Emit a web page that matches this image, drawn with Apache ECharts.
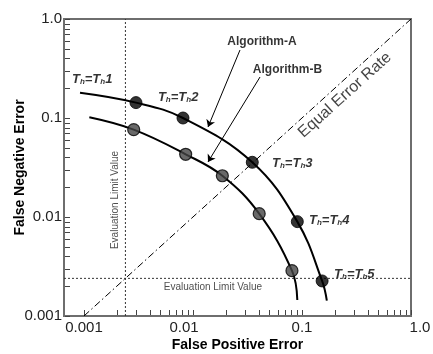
<!DOCTYPE html>
<html><head><meta charset="utf-8">
<script src="https://cdn.jsdelivr.net/npm/echarts@6.0.0/dist/echarts.min.js"></script>
<style>html,body{margin:0;padding:0;background:#fff}#c{width:433px;height:354px}</style>
</head><body><div id="c"></div>
<script>
// ---- data ----
const xAxisMin = 0.000656, xAxisMax = 1.0;
const yAxisMin = 0.001, yAxisMax = 1.0;
const xTickValues = [0.001, 0.01, 0.1, 1.0];
const xTickLabels = ['0.001', '0.01', '0.1', '1.0'];
const yTickValues = [0.001, 0.01, 0.1, 1.0];
const yTickLabels = ['0.001', '0.01', '0.1', '1.0'];
const minorMultipliers = [1, 2, 3, 4, 5, 6, 7, 8, 9];
const decades = [0.001, 0.01, 0.1];

const algAPoints = [[0.0030, 0.143], [0.0081, 0.100], [0.035, 0.0357], [0.0906, 0.00898], [0.153, 0.00226]];
const algBPoints = [[0.00286, 0.0762], [0.00857, 0.043], [0.0186, 0.0261], [0.0405, 0.0108], [0.0809, 0.00287]];
const algACurve = [[0.00092, 0.180], [0.0030, 0.143], [0.0081, 0.100], [0.035, 0.0357], [0.0906, 0.00898], [0.153, 0.00226], [0.169, 0.00143]];
const algBCurve = [[0.00112, 0.1016], [0.00286, 0.0762], [0.00857, 0.043], [0.0186, 0.0261], [0.0405, 0.0108], [0.0809, 0.00287], [0.0906, 0.00145]];

const thresholdNames = ['1', '2', '3', '4', '5'];
const thresholdLabelAt = [[0.000776, 0.2477], [0.00477, 0.163], [0.0531, 0.0351], [0.1159, 0.00933], [0.197, 0.00266]];

const equalErrorLine = [[0.001, 0.001], [1.0, 1.0]];
const evalLimitFP = 0.0024;
const evalLimitFN = 0.0024;

const algorithmNames = ['Algorithm-A', 'Algorithm-B'];
const algorithmLabelAt = [[0.0430, 0.586], [0.0736, 0.305]];
const algorithmArrows = [[[0.0270, 0.486], [0.01374, 0.0811]], [[0.0412, 0.2594], [0.01374, 0.0360]]];
const eerLabelAt = [0.2477, 0.1706];
const evalLabelVAt = [0.00192, 0.01486];
const evalLabelHAt = [0.01524, 0.00196];

// ---- layout ----
const GRID = { left: 64, top: 19, right: 22, bottom: 38 };
const TICK_PX = 5;

// ---- build ----
const tickVals = [];
decades.forEach(d => minorMultipliers.forEach(m => tickVals.push(+(d * m).toPrecision(3))));
tickVals.push(1.0);

const FONT = "'Liberation Sans', Arial, sans-serif";
function lookup(vals, labs) {
  return function (v) {
    let best = 0, bd = Infinity;
    vals.forEach((t, i) => { const d = Math.abs(Math.log10(t) - Math.log10(v)); if (d < bd) { bd = d; best = i; } });
    return labs[best];
  };
}
const xFmt = lookup(xTickValues, xTickLabels);
const yFmt = lookup(yTickValues, yTickLabels);
const AXC = '#6e6e6e';

const axisCommon = {
  type: 'log', logBase: 10,
  splitLine: { show: false }, minorTick: { show: false }, minorSplitLine: { show: false },
  axisLine: { show: true, onZero: false, lineStyle: { color: AXC, width: 2 } },
  axisTick: { show: false },
  nameMoveOverlap: false,
  nameTextStyle: { fontFamily: FONT, fontWeight: 'bold', fontSize: 14, color: '#000' }
};

const thRich = {
  t: { fontFamily: FONT, fontSize: 13, fontWeight: 'bold', fontStyle: 'italic', color: '#000', lineHeight: 14 },
  s: { fontFamily: FONT, fontSize: 8, fontWeight: 'bold', fontStyle: 'italic', color: '#000', lineHeight: 8, verticalAlign: 'bottom' }
};

const option = {
  animation: false,
  backgroundColor: '#fff',
  grid: Object.assign({ containLabel: false, outerBoundsMode: 'none',
    show: true, borderColor: AXC, borderWidth: 2, backgroundColor: 'transparent' }, GRID),
  xAxis: Object.assign({}, axisCommon, {
    min: xAxisMin, max: xAxisMax,
    name: 'False Positive Error', nameLocation: 'middle', nameGap: 22,
    axisLabel: {
      customValues: xTickValues, margin: 4, fontFamily: FONT, fontSize: 15, color: '#222',
      formatter: v => { const s = xFmt(v); if (s === '0.01') return '{l|' + s + '}'; if (s === '1.0') return '{r|' + s + '}'; return s; },
      rich: { l: { fontFamily: FONT, fontSize: 15, color: '#222', padding: [0, 18, 0, 0] }, r: { fontFamily: FONT, fontSize: 15, color: '#222', padding: [0, 0, 0, 18] } }
    }
  }),
  yAxis: Object.assign({}, axisCommon, {
    min: yAxisMin, max: yAxisMax,
    name: 'False Negative Error', nameLocation: 'middle', nameGap: 37,
    axisLabel: { customValues: yTickValues, margin: 2, fontFamily: FONT, fontSize: 15, color: '#222', formatter: v => yFmt(v) }
  }),
  series: [
    { type: 'line', data: equalErrorLine, symbol: 'none', silent: true,
      lineStyle: { color: '#000', width: 1, type: [7, 3, 1.5, 3] }, z: 2 },
    { type: 'line', data: [[evalLimitFP, yAxisMin], [evalLimitFP, yAxisMax]], symbol: 'none', silent: true,
      lineStyle: { color: '#333', width: 1, type: [2, 2] }, z: 2 },
    { type: 'line', data: [[xAxisMin, evalLimitFN], [xAxisMax, evalLimitFN]], symbol: 'none', silent: true,
      lineStyle: { color: '#333', width: 1, type: [2, 2] }, z: 2 },
    { type: 'line', data: algACurve, smooth: 0.4, symbol: 'none', silent: true, lineStyle: { color: '#000', width: 2 }, z: 3 },
    { type: 'line', data: algBCurve, smooth: 0.4, symbol: 'none', silent: true, lineStyle: { color: '#000', width: 2 }, z: 3 },
    { type: 'scatter', data: algAPoints, symbol: 'circle', symbolSize: 12, silent: true,
      itemStyle: { color: '#000', borderColor: '#000', borderWidth: 1 }, z: 5 },
    { type: 'scatter', data: algBPoints, symbol: 'circle', symbolSize: 12, silent: true,
      itemStyle: { color: '#444', borderColor: '#000', borderWidth: 1.2 }, z: 5 },
    { type: 'lines', coordinateSystem: 'cartesian2d', silent: true, symbol: ['none', 'arrow'], symbolSize: 7,
      lineStyle: { color: '#000', width: 1, opacity: 1 },
      data: algorithmArrows.map(c => ({ coords: c })), z: 4 },
    { type: 'scatter', symbolSize: 0, silent: true, z: 6,
      data: thresholdLabelAt.map((p, i) => ({ value: p, name: thresholdNames[i] })),
      label: { show: true, position: 'right', distance: 0,
        formatter: p => '{t|T}{s|h}{t|=T}{s|h}{t|' + p.name + '}', rich: thRich } },
    { type: 'scatter', symbolSize: 0, silent: true, z: 6,
      data: algorithmLabelAt.map((p, i) => ({ value: p, name: algorithmNames[i] })),
      label: { show: true, position: 'inside', formatter: p => p.name,
        fontFamily: FONT, fontSize: 12, fontWeight: 'bold', color: '#000' } },
    { type: 'scatter', symbolSize: 0, silent: true, z: 6,
      data: [{ value: eerLabelAt, name: 'Equal Error Rate' }],
      label: { show: true, position: 'inside', rotate: 42, formatter: p => p.name,
        fontFamily: FONT, fontSize: 16, color: '#111' } },
    { type: 'scatter', symbolSize: 0, silent: true, z: 6,
      data: [{ value: evalLabelVAt, name: 'Evaluation Limit Value' }],
      label: { show: true, position: 'inside', rotate: 90, formatter: p => p.name,
        fontFamily: FONT, fontSize: 10, color: '#222' } },
    { type: 'scatter', symbolSize: 0, silent: true, z: 6,
      data: [{ value: evalLabelHAt, name: 'Evaluation Limit Value' }],
      label: { show: true, position: 'inside', formatter: p => p.name,
        fontFamily: FONT, fontSize: 10, color: '#222' } }
  ]
};
const chart = echarts.init(document.getElementById('c'));
chart.setOption(option);

// inside axis ticks at 1..9 x each decade, positioned through the log axes' own scales
const tickEls = [];
tickVals.forEach(v => {
  const p = chart.convertToPixel({ gridIndex: 0 }, [v, yAxisMin]);
  if (p && isFinite(p[0])) {
    const x = Math.round(p[0]) + 0.5;
    tickEls.push({ type: 'line', z: 100, silent: true,
      shape: { x1: x, y1: p[1] - 1, x2: x, y2: p[1] - 1 - TICK_PX }, style: { stroke: '#444', lineWidth: 1 } });
  }
  const q = chart.convertToPixel({ gridIndex: 0 }, [xAxisMin, v]);
  if (q && isFinite(q[1])) {
    const y = Math.round(q[1]) + 0.5;
    tickEls.push({ type: 'line', z: 100, silent: true,
      shape: { x1: q[0] + 1, y1: y, x2: q[0] + 1 + TICK_PX, y2: y }, style: { stroke: '#444', lineWidth: 1 } });
  }
});
chart.setOption({ graphic: { elements: tickEls } });
</script></body></html>
